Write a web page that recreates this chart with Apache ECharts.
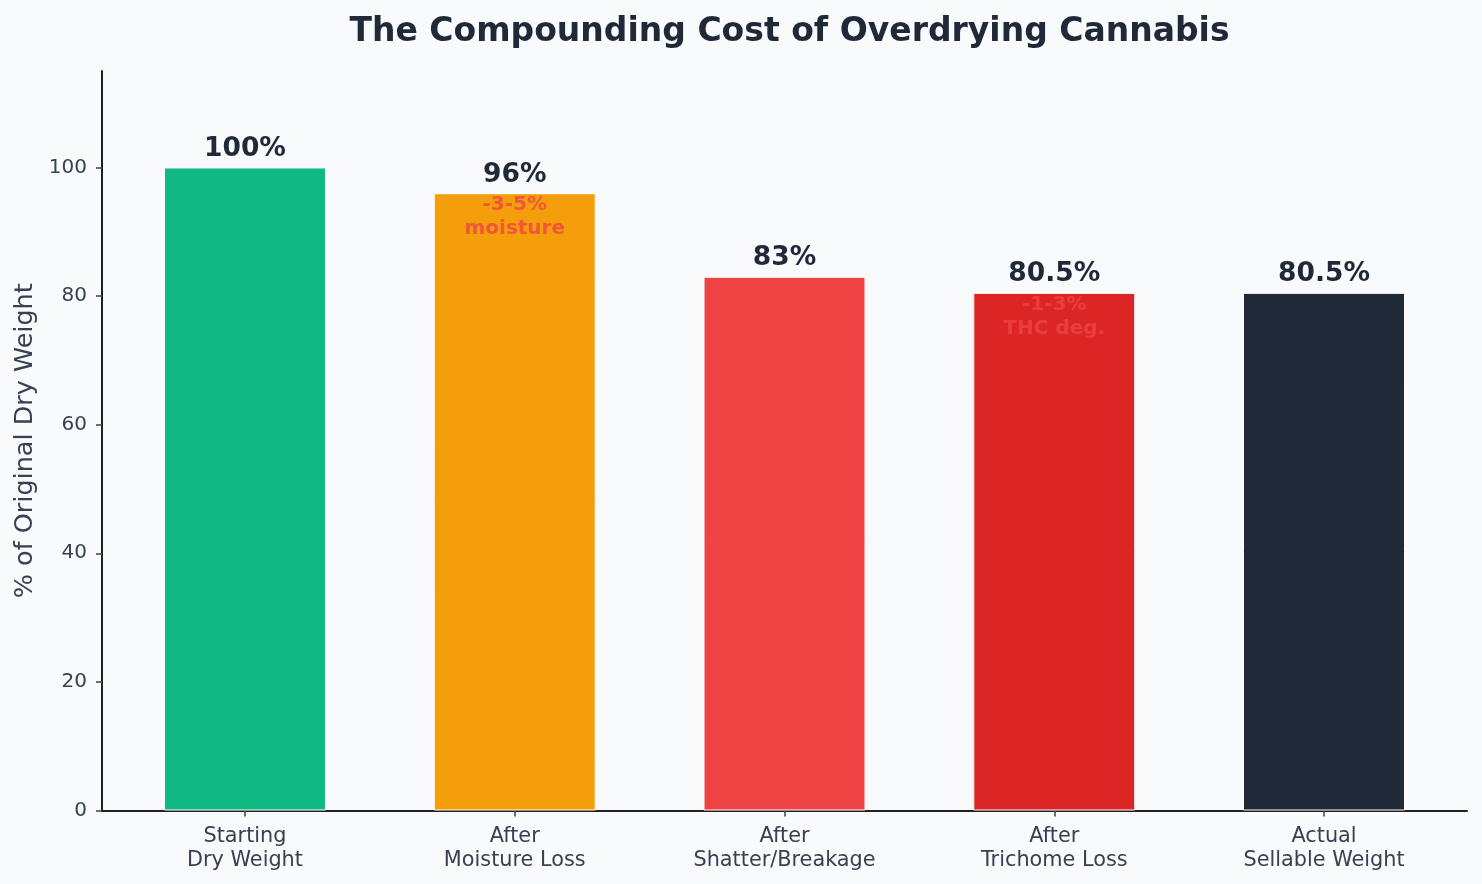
<!DOCTYPE html>
<html>
<head>
<meta charset="utf-8">
<script src="https://cdn.jsdelivr.net/npm/echarts@6/dist/echarts.min.js"></script>
<style>
html,body{margin:0;padding:0;background:#f8fafc;}
#chart{width:1482px;height:884px;}
</style>
</head>
<body>
<div id="chart"></div>
<script>
const categories = ['Starting\nDry Weight', 'After\nMoisture Loss', 'After\nShatter/Breakage', 'After\nTrichome Loss', 'Actual\nSellable Weight'];
const values = [100, 96, 83, 80.5, 80.5];
const valueLabels = ['100%', '96%', '83%', '80.5%', '80.5%'];
const barColors = ['#10b981', '#f59e0b', '#ef4444', '#dc2626', '#1f2937'];
const annotationIndex = [1, 3];
const annotationText = ['-3-5%\nmoisture', '-1-3%\nTHC deg.'];
const yTicks = [0, 20, 40, 60, 80, 100];
const xTicks = [0, 1, 2, 3, 4];

const chart = echarts.init(document.getElementById('chart'), null, {renderer: 'canvas'});
const font = 'DejaVu Sans';

const barData = values.map((v, i) => ({
  value: [i, v],
  itemStyle: {color: barColors[i]},
  label: {formatter: valueLabels[i]}
}));
const annData = annotationIndex.map((idx, k) => ({
  value: [idx, values[idx]],
  label: {formatter: annotationText[k]}
}));

chart.setOption({
  backgroundColor: '#f8fafc',
  animation: false,
  title: {
    text: 'The Compounding Cost of Overdrying Cannabis',
    left: 784.5, top: 11, textAlign: 'center',
    textStyle: {fontFamily: font, fontSize: 33, fontWeight: 'bold', color: '#1f2937'}
  },
  grid: {left: 102, right: 15, top: 71, bottom: 73.5, containLabel: false},
  xAxis: {
    type: 'value', min: -0.53, max: 4.53,
    splitLine: {show: false},
    axisLine: {show: true, onZero: false, lineStyle: {color: '#222222', width: 2}},
    axisTick: {show: true, length: 6, customValues: xTicks, lineStyle: {color: '#374151', width: 1.5}},
    axisLabel: {
      customValues: xTicks, margin: 14,
      formatter: v => categories[Math.round(v)],
      fontFamily: font, fontSize: 20.8, lineHeight: 24, color: '#374151'
    }
  },
  yAxis: {
    type: 'value', min: 0, max: 115,
    name: '% of Original Dry Weight', nameLocation: 'middle', nameGap: 64,
    nameTextStyle: {fontFamily: font, fontSize: 25.5, color: '#374151'},
    splitLine: {show: false},
    axisLine: {show: true, onZero: false, lineStyle: {color: '#222222', width: 2}},
    axisTick: {show: true, length: 6, customValues: yTicks, lineStyle: {color: '#374151', width: 1.5}},
    axisLabel: {customValues: yTicks, margin: 15, fontFamily: font, fontSize: 20, color: '#374151'}
  },
  series: [
    {
      type: 'bar', data: barData, barWidth: 162,
      itemStyle: {borderColor: '#ffffff', borderWidth: 1},
      label: {show: true, position: 'top', distance: 5, fontFamily: font, fontSize: 26.5, fontWeight: 'bold', color: '#1f2937'}
    },
    {
      type: 'scatter', data: annData, symbolSize: 0, z: 5,
      label: {show: true, position: 'bottom', distance: 0, fontFamily: font, fontSize: 20, fontWeight: 'bold', lineHeight: 24, color: '#ef4444', align: 'center'}
    }
  ]
});
</script>
</body>
</html>
